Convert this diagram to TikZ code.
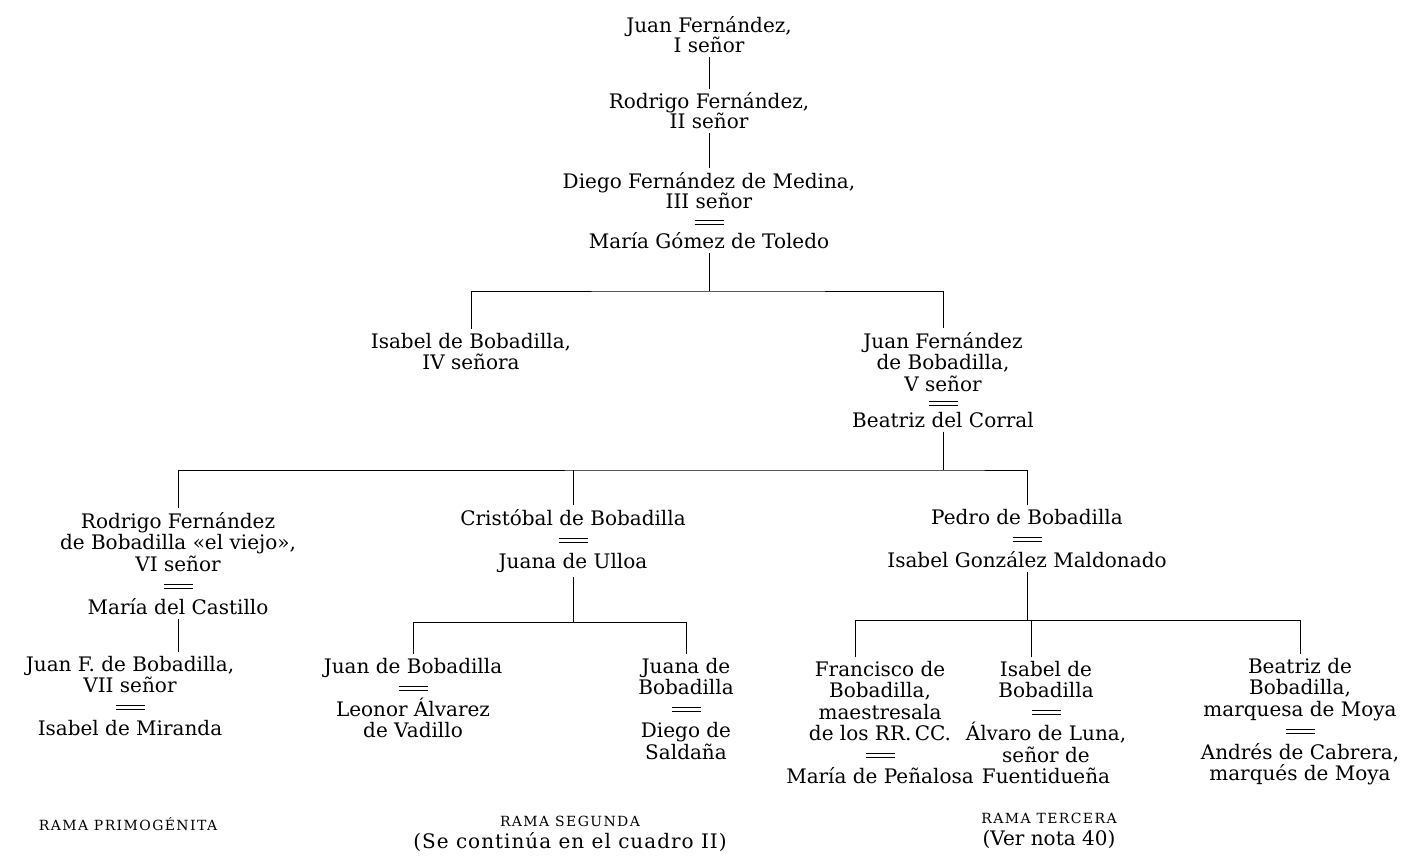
\documentclass[tikz,border=0pt]{standalone}
\usepackage{fontspec}
\setmainfont{DejaVu Serif}
\usetikzlibrary{positioning}

\newcommand{\casado}{\raisebox{4pt}{\vbox{\hrule width 29pt height 1pt\kern 3pt\hrule width 29pt height 1pt}}}
\newcommand{\rama}[1]{{\fontsize{14}{15}\selectfont\addfontfeature{LetterSpace=10}#1}}
\newcommand{\letra}[1]{\fontsize{20}{#1}\selectfont}

\begin{document}
\begin{tikzpicture}[x=1pt, y=-1pt,
    persona/.style={align=center, inner sep=4pt, anchor=north,
      font={\letra{21.5}}},
    tronco/.style={persona, font={\letra{20}}},
    linea/.style={line width=1pt}]
  \useasboundingbox (0,0) rectangle (1408,860);
  % tronco
  \node[tronco] (juan1) at (709,12) {Juan Fernández,\\I señor};
  \node[tronco, below=32pt of juan1] (rodrigo2) {Rodrigo Fernández,\\II señor};
  \node[tronco, below=35pt of rodrigo2] (diego3) {Diego Fernández de Medina,\\III señor\\\casado\\María Gómez de Toledo};
  \node[persona] (isabel4) at (471,329) {Isabel de Bobadilla,\\IV señora};
  \node[persona] (juan5) at (943,328) {Juan Fernández\\de Bobadilla,\\V señor\\[-3pt]\casado\\[-4pt]Beatriz del Corral};
  % ramas
  \node[persona] (rodrigo6) at (178,508) {Rodrigo Fernández\\de Bobadilla «el viejo»,\\VI señor\\\casado\\María del Castillo};
  \node[persona] (cristobal) at (573,505) {Cristóbal de Bobadilla\\\casado\\Juana de Ulloa};
  \node[persona] (pedro) at (1027,505) {Pedro de Bobadilla\\\casado\\Isabel González Maldonado};
  \node[persona] (juan7) at (130,652) {Juan F. de Bobadilla,\\VII señor\\\casado\\Isabel de Miranda};
  \node[persona] (juanb) at (413,654) {Juan de Bobadilla\\\casado\\Leonor Álvarez\\de Vadillo};
  \node[persona] (juana) at (686,654) {Juana de\\Bobadilla\\\casado\\Diego de\\Saldaña};
  \node[persona] (francisco) at (880,657) {Francisco de\\Bobadilla,\\maestresala\\de los RR.\,CC.\\\casado\\María de Peñalosa};
  \node[persona] (isabelb) at (1046,657) {Isabel de\\Bobadilla\\\casado\\Álvaro de Luna,\\señor de\\Fuentidueña};
  \node[persona] (beatriz) at (1300,654) {Beatriz de\\Bobadilla,\\marquesa de Moya\\\casado\\Andrés de Cabrera,\\marqués de Moya};
  \node[persona] (rama1) at (128,813) {\rama{RAMA PRIMOGÉNITA}};
  \node[persona] (rama2) at (570,812) {\rama{RAMA SEGUNDA}\\{\addfontfeature{LetterSpace=5}(Se continúa en el cuadro II)}};
  \node[persona] (rama3) at (1049,809) {\rama{RAMA TERCERA}\\(Ver nota 40)};

  \coordinate (r1) at (709,291);
  \coordinate (r2) at (943,470);
  \coordinate (r3) at (573,622);
  \coordinate (r4) at (1027,620);
  \coordinate (fr) at ([xshift=-25pt]francisco.north);
  \coordinate (ib) at ([xshift=-15pt]isabelb.north);

  \draw[linea] (juan1) -- (rodrigo2);
  \draw[linea] (rodrigo2) -- (diego3);
  \draw[linea] (diego3) -- (r1);
  \draw[linea] (isabel4) |- (r1) -| (juan5);
  \draw[linea] (juan5) -- (r2);
  \draw[linea] (rodrigo6) |- (r2) -| (pedro);
  \draw[linea] (cristobal) -- (cristobal |- r2);
  \draw[linea] (rodrigo6.south) -- (rodrigo6.south |- juan7.north);
  \draw[linea] (cristobal) -- (r3);
  \draw[linea] (juanb) |- (r3) -| (juana);
  \draw[linea] (pedro) -- (r4);
  \draw[linea] (fr) |- (r4) -| (beatriz);
  \draw[linea] (ib) -- (ib |- r4);
\end{tikzpicture}
\end{document}
